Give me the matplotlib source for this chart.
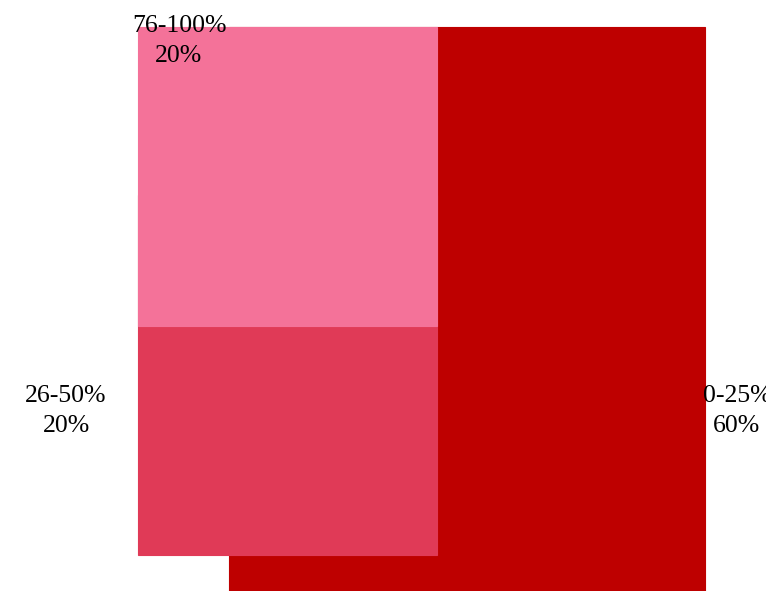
import matplotlib.pyplot as plt
from matplotlib.patches import Rectangle

# share of respondents per bracket
brackets = ["0-25%", "26-50%", "76-100%"]
shares = [60, 20, 20]
colors = ["#BE0000", "#E03A57", "#F47299"]

# box layout in pixel space: (left, top, width, height)
boxes = [(229, 27, 476, 580), (138, 195, 299, 360), (138, 27, 299, 299)]
# label anchor (x, y of first line centre)
label_pos = [(737, 396), (66, 396), (179, 26)]

plt.rcParams["font.family"] = ["Liberation Serif", "DejaVu Serif"]

fig = plt.figure(figsize=(7.66, 5.91), dpi=100)
ax = fig.add_axes([0, 0, 1, 1])
ax.set_xlim(0, 766)
ax.set_ylim(591, 0)
ax.axis("off")

for (x, y, w, h), c in zip(boxes, colors):
    ax.add_patch(Rectangle((x, y), w, h, facecolor=c, edgecolor=c, linewidth=0.8))

for name, share, (lx, ly) in zip(brackets, shares, label_pos):
    ax.text(lx, ly, name, ha="center", va="center", fontsize=18.5, color="black")
    ax.text(lx, ly + 30, f"{share}%", ha="center", va="center", fontsize=18.5, color="black")

fig.savefig("out.png", dpi=100)
